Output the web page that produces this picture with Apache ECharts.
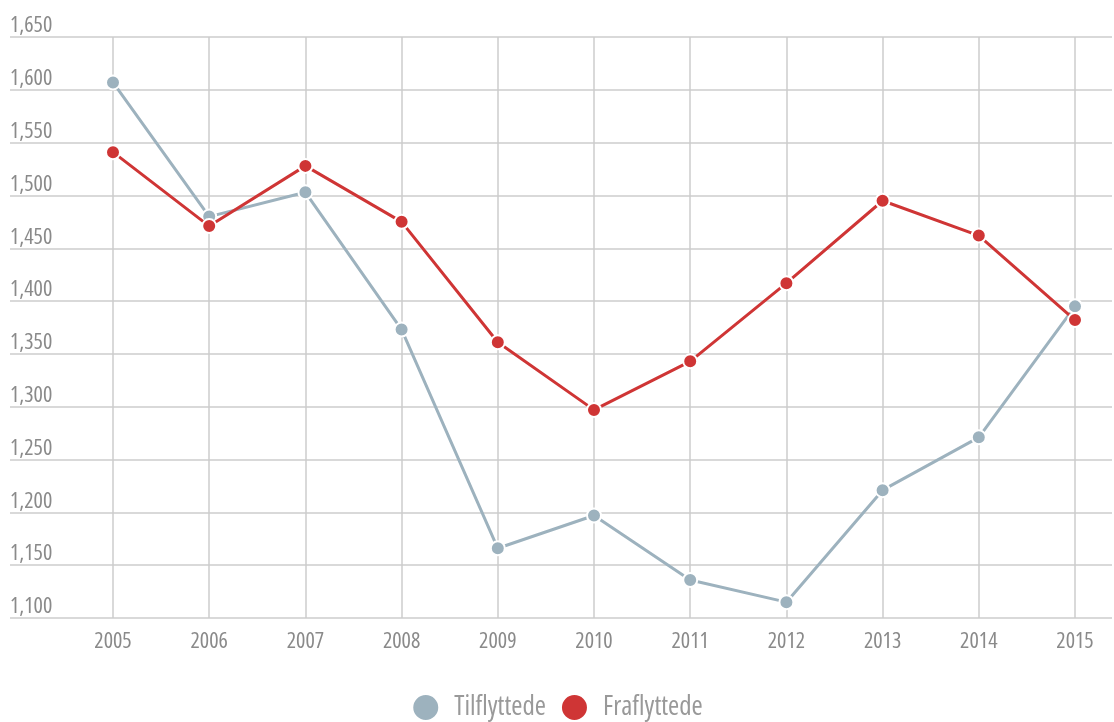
<!DOCTYPE html>
<html><head><meta charset="utf-8">
<script src="https://cdn.jsdelivr.net/npm/echarts@6/dist/echarts.min.js"></script>
<style>html,body{margin:0;padding:0;background:#fff}#c{width:1114px;height:722px}</style>
</head><body><div id="c"></div>
<script>
const years = ['2005','2006','2007','2008','2009','2010','2011','2012','2013','2014','2015'];
const tilflyttede = [1607,1480,1503,1373,1166,1197,1136,1115,1221,1271,1395];
const fraflyttede = [1541,1471,1528,1475,1361,1297,1343,1417,1495,1462,1382];
const yMin = 1100, yMax = 1650, yStep = 50;

const FONT = '"Open Sans","Roboto Condensed",sans-serif';
const STRETCH = 'condensed';
const chart = echarts.init(document.getElementById('c'));
chart.setOption({
  animation:false,
  textStyle:{fontFamily:FONT,fontStyle:STRETCH},
  grid:[
    {left:113,right:39,top:37,bottom:104},
    {left:10,right:2,top:37,bottom:104}
  ],
  xAxis:[
    {type:'category',gridIndex:0,data:years,boundaryGap:false,
     axisLine:{show:false},axisTick:{show:false},
     axisLabel:{color:'#8a8a8a',fontSize:22,margin:13,fontFamily:FONT,fontStyle:STRETCH},
     splitLine:{show:true,lineStyle:{color:'#cccccc',width:1.5}}},
    {type:'value',gridIndex:1,min:0,max:1,show:false}
  ],
  yAxis:[
    {type:'value',gridIndex:0,min:yMin,max:yMax,interval:yStep,show:false},
    {type:'value',gridIndex:1,min:yMin,max:yMax,interval:yStep,
     axisLine:{show:false},axisTick:{show:false},
     splitLine:{show:true,lineStyle:{color:'#cccccc',width:1.5}},
     axisLabel:{inside:true,margin:0,align:'left',verticalAlign:'bottom',padding:[0,0,0,0],
       color:'#8a8a8a',fontSize:22,fontFamily:FONT,fontStyle:STRETCH,
       formatter:v=>v.toLocaleString('en-US')}}
  ],
  legend:{bottom:-5,left:'center',itemWidth:27,itemHeight:27,itemGap:14,icon:'circle',
    textStyle:{color:'#999',fontSize:27,fontFamily:FONT,fontStyle:STRETCH,padding:[0,0,0,10]},
    data:['Tilflyttede','Fraflyttede']},
  series:[
    {name:'Tilflyttede',type:'line',xAxisIndex:0,yAxisIndex:0,data:tilflyttede,
     symbol:'circle',symbolSize:14,z:2,
     lineStyle:{color:'#9db2be',width:3},
     itemStyle:{color:'#9db2be',borderColor:'#fff',borderWidth:2}},
    {name:'Fraflyttede',type:'line',xAxisIndex:0,yAxisIndex:0,data:fraflyttede,
     symbol:'circle',symbolSize:14,z:3,
     lineStyle:{color:'#cf3535',width:3},
     itemStyle:{color:'#cf3535',borderColor:'#fff',borderWidth:2}}
  ]
});
</script></body></html>
